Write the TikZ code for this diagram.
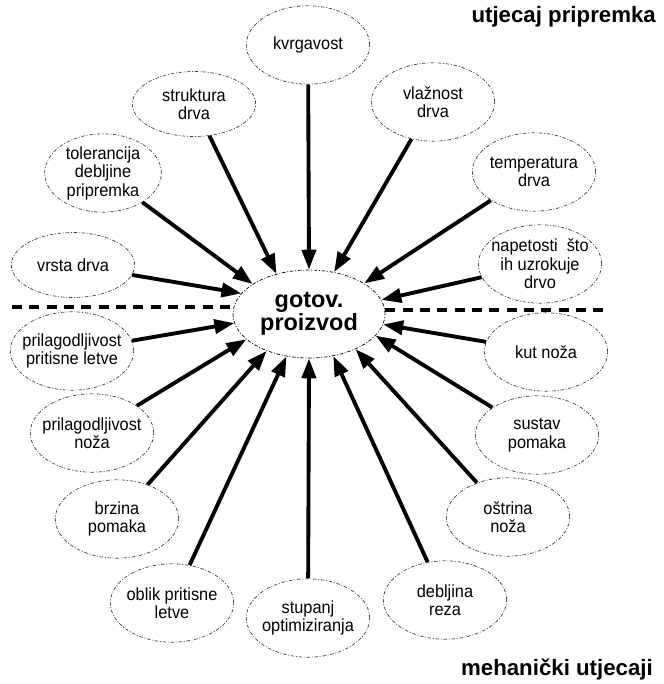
\documentclass[tikz,border=0pt]{standalone}
\usepackage{fontspec}
\setmainfont{Liberation Sans}
\newfontfamily\labelfont{Liberation Sans}[FakeStretch=0.93]
\usetikzlibrary{arrows.meta}
\usetikzlibrary{shapes.geometric}
\tikzset{factor/.style={ellipse, draw=black!75, line width=0.6pt,
  dash pattern=on 3pt off 1.5pt on 0.8pt off 1.5pt,
  minimum width=3.7cm, minimum height=2.35cm, inner xsep=-12pt, inner ysep=0pt,
  align=center, font=\labelfont\fontsize{15}{15.8}\selectfont}}
\tikzset{influence/.style={line width=3.3pt, -{Triangle[length=17pt,width=12pt]}}}
\tikzset{divider/.style={line width=3.5pt, dash pattern=on 0.3cm off 0.22cm}}

\begin{document}
\begin{tikzpicture}[x=0.03cm, y=-0.03cm]
      \useasboundingbox (0,0) rectangle (663,684);

      \node [factor, draw=black, minimum width=4.56cm, minimum height=2.64cm, inner xsep=0pt,
             font=\fontsize{20}{19.5}\selectfont\bfseries] (g) at (309,314) {gotov.\\proizvod};

      \node [factor] (kv) at (308,45) {kvrgavost};
      \node [factor, minimum height=1.95cm] (st) at (194,104) {struktura\\drva};
      \node [factor, minimum width=3.5cm] (tol) at (103,173) {tolerancija\\debljine\\pripremka};
      \node [factor, minimum height=1.95cm] (vr) at (73,265) {vrsta drva};
      \node [factor] (vl) at (433,102) {vlažnost\\drva};
      \node [factor] (te) at (534,172) {temperatura\\drva};
      \node [factor] (na) at (540,264) {napetosti\ \ što\\ih uzrokuje\\drvo};

      \node [factor] (pp) at (72,351) {prilagodljivost\\pritisne letve};
      \node [factor] (pn) at (92,433) {prilagodljivost\\noža};
      \node [factor] (br) at (117,519) {brzina\\pomaka};
      \node [factor] (ob) at (172,603) {oblik pritisne\\letve};
      \node [factor] (su) at (308,618) {stupanj\\optimiziranja};
      \node [factor] (de) at (445,600) {debljina\\reza};
      \node [factor] (os) at (508,517) {oštrina\\noža};
      \node [factor] (sp) at (537,435) {sustav\\pomaka};
      \node [factor] (ku) at (546,352) {kut noža};

      \node [anchor=east, font=\fontsize{19}{19}\selectfont\bfseries] (prep) at (660,17) {utjecaj pripremka};
      \node [anchor=east, font=\fontsize{19}{19}\selectfont\bfseries] (meh) at (657,669) {mehanički utjecaji};

      \coordinate (lft) at (12,307);
      \coordinate (rgt) at (606,310);
      \draw [divider] (lft) -- (lft -| g.west);
      \draw [divider] (rgt -| g.east) -- (rgt);

      \draw [influence] (kv) -- (g.90);
      \draw [influence] (st) -- (g.129);
      \draw [influence] (tol) -- (g.152);
      \draw [influence] (vr) -- (g.163);
      \draw [influence] (vl) -- (g.59);
      \draw [influence] (te) -- (g.29);
      \draw [influence] (na) -- (g.11);

      \draw [influence] (pp) -- (g.187);
      \draw [influence] (pn) -- (g.202);
      \draw [influence] (br) -- (g.221);
      \draw [influence] (ob) -- (g.242);
      \draw [influence] (su) -- (g.270);
      \draw [influence] (de) -- (g.300);
      \draw [influence] (os) -- (g.323);
      \draw [influence] (sp) -- (g.342);
      \draw [influence] (ku) -- (g.352);
\end{tikzpicture}
\end{document}
